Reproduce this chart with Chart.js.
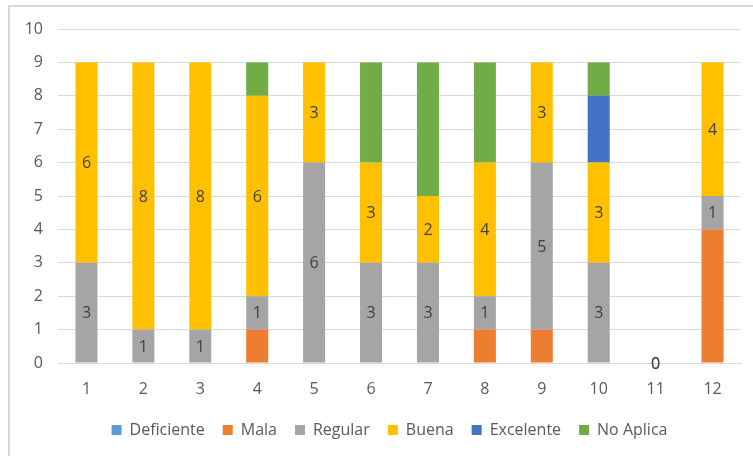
<!DOCTYPE html>
<html>
<head>
<meta charset="utf-8">
<script src="https://cdn.jsdelivr.net/npm/chart.js@4/dist/chart.umd.min.js"></script>
<style>
    body { margin: 0; background: #fff; }
    #frame {
        position: absolute; left: 8px; top: 5px;
        width: 800px; height: 500px;
        border: 2px solid #d9d9d9;
    }
    #wrap { position: absolute; left: 0; top: 0; width: 753px; height: 456px; }
</style>
</head>
<body>
<div id="frame"></div>
<div id="wrap"><canvas id="ratingsChart" width="753" height="456"></canvas></div>
<script>
// --- DATA ---
const categories = ['1', '2', '3', '4', '5', '6', '7', '8', '9', '10', '11', '12'];
const deficiente = [0, 0, 0, 0, 0, 0, 0, 0, 0, 0, 0, 0];
const mala       = [0, 0, 0, 1, 0, 0, 0, 1, 1, 0, 0, 4];
const regular    = [3, 1, 1, 1, 6, 3, 3, 1, 5, 3, 0, 1];
const buena      = [6, 8, 8, 6, 3, 3, 2, 4, 3, 3, 0, 4];
const excelente  = [0, 0, 0, 0, 0, 0, 0, 0, 0, 2, 0, 0];
const noAplica   = [0, 0, 0, 1, 0, 3, 4, 3, 0, 1, 0, 0];
const yTicks = [0, 1, 2, 3, 4, 5, 6, 7, 8, 9, 10];
// --- END DATA ---

const FONT = { family: '"Open Sans", sans-serif', size: 16 };

// value labels in the middle of the Regular / Buena segments
const segmentLabels = {
    id: 'segmentLabels',
    afterDatasetsDraw(chart) {
        const ctx = chart.ctx;
        ctx.save();
        ctx.font = `16px ${FONT.family}`;
        ctx.fillStyle = '#404040';
        ctx.textAlign = 'center';
        ctx.textBaseline = 'middle';
        chart.data.datasets.forEach((ds, i) => {
            if (!ds.showValues) return;
            chart.getDatasetMeta(i).data.forEach((bar, j) => {
                const v = ds.data[j];
                if (v === null || v === undefined) return;
                const y = (bar.y + bar.base) / 2;
                ctx.fillText(String(v), bar.x, y + 1);
            });
        });
        ctx.restore();
    }
};

// legend sits a little right of the canvas centre
const legendShift = {
    id: 'legendShift',
    afterLayout(chart) {
        if (chart.legend) chart.legend.left = 38;
    }
};

document.addEventListener('DOMContentLoaded', () => {
    const ctx = document.getElementById('ratingsChart').getContext('2d');
    const bar = (label, data, color, showValues) => ({
        label, data, backgroundColor: color, borderWidth: 0,
        barPercentage: 0.387, categoryPercentage: 1, showValues
    });

    new Chart(ctx, {
        type: 'bar',
        data: {
            labels: categories,
            datasets: [
                bar('Deficiente', deficiente, '#5b9bd5', false),
                bar('Mala', mala, '#ed7d31', false),
                bar('Regular', regular, '#a5a5a5', true),
                bar('Buena', buena, '#ffc000', true),
                bar('Excelente', excelente, '#4472c4', false),
                bar('No Aplica', noAplica, '#70ad47', false)
            ]
        },
        options: {
            responsive: false,
            animation: false,
            layout: { padding: { left: 0, right: 12, top: 29, bottom: 8 } },
            plugins: {
                tooltip: { enabled: false },
                legend: {
                    position: 'bottom',
                    labels: {
                        boxWidth: 10,
                        boxHeight: 10,
                        padding: 18,
                        color: '#595959',
                        font: FONT
                    }
                }
            },
            scales: {
                x: {
                    stacked: true,
                    grid: { display: false },
                    border: { color: '#d9d9d9' },
                    ticks: { color: '#595959', font: FONT, padding: 9 },
                    afterFit: s => { s.height = 41; }
                },
                y: {
                    stacked: true,
                    min: 0,
                    max: 10,
                    afterBuildTicks: s => { s.ticks = yTicks.map(v => ({ value: v })); },
                    grid: { color: '#d9d9d9', drawTicks: false },
                    border: { display: false },
                    ticks: { color: '#595959', font: FONT, padding: 15 },
                    afterFit: s => { s.width = 58; }
                }
            }
        },
        plugins: [segmentLabels, legendShift]
    });
});
</script>
</body>
</html>
